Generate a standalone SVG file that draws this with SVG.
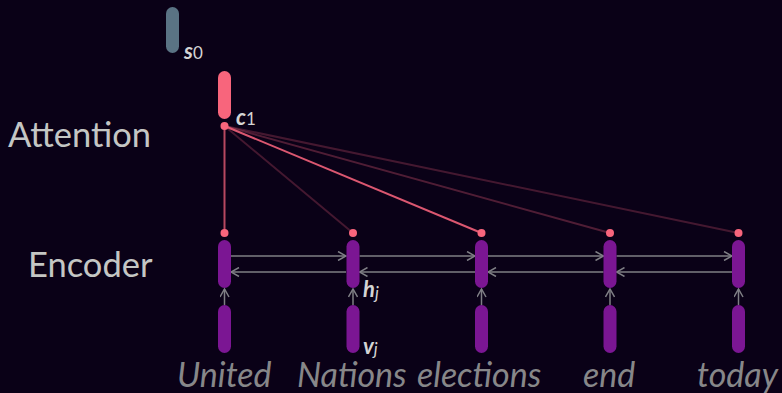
<svg xmlns="http://www.w3.org/2000/svg" width="782" height="393" viewBox="0 0 782 393">
<defs>
<style>
.bg{fill:#0a0117}
.h{fill:#7b1693}
.dot{fill:#f8657c}
.att{stroke:#f2607a;stroke-width:2;fill:none}
.arr{stroke:#7f7f85;stroke-width:1.5;fill:none}
.lbl{font-family:Lato,"Open Sans",sans-serif;fill:#c4c6c4;font-size:34.5px}
.word{font-family:Lato,"Open Sans",sans-serif;fill:#878789;font-size:34px;font-style:italic}
.var{font-family:Lato,"Open Sans",sans-serif;fill:#d4d4d4;font-size:22px;font-weight:bold;font-style:italic}
.sub{font-size:17px;font-weight:normal}
</style>
<marker id="ah" viewBox="0 0 10 10" refX="9" refY="5" markerWidth="10" markerHeight="10" markerUnits="userSpaceOnUse" orient="auto">
<path d="M1,0.5 L9,5 L1,9.5" fill="none" stroke="#7f7f85" stroke-width="1.5"/>
</marker>
</defs>
<rect class="bg" x="0" y="0" width="782" height="393"/>
<text class="lbl" x="8" y="147">Attention</text>
<text class="lbl" x="28" y="277">Encoder</text>
<g id="connectors">
<line class="att" x1="224.5" y1="126" x2="224.5" y2="233" stroke-opacity="0.75"/>
<line class="att" x1="224.5" y1="126" x2="353" y2="233" stroke-opacity="0.25"/>
<line class="att" x1="224.5" y1="126" x2="481.5" y2="233" stroke-opacity="0.9"/>
<line class="att" x1="224.5" y1="126" x2="610" y2="233" stroke-opacity="0.3"/>
<line class="att" x1="224.5" y1="126" x2="738.5" y2="233" stroke-opacity="0.25"/>
<g marker-end="url(#ah)" class="arr">
<line x1="231" y1="256" x2="346" y2="256"/>
<line x1="359.5" y1="256" x2="475" y2="256"/>
<line x1="488" y1="256" x2="603.5" y2="256"/>
<line x1="616.5" y1="256" x2="732" y2="256"/>
<line x1="346" y1="272" x2="231" y2="272"/>
<line x1="475" y1="272" x2="359.5" y2="272"/>
<line x1="603.5" y1="272" x2="488" y2="272"/>
<line x1="732" y1="272" x2="616.5" y2="272"/>
<line x1="224.5" y1="305" x2="224.5" y2="289"/>
<line x1="353" y1="305" x2="353" y2="289"/>
<line x1="481.5" y1="305" x2="481.5" y2="289"/>
<line x1="610" y1="305" x2="610" y2="289"/>
<line x1="738.5" y1="305" x2="738.5" y2="289"/>
</g>
</g>
<g id="s0">
<rect x="166" y="7" width="13" height="46" rx="6.5" fill="#5a7384"/>
<text class="var" x="184" y="59">s<tspan class="sub" font-style="normal">0</tspan></text>
</g>
<g id="c1">
<rect x="218" y="71" width="13" height="48" rx="6.5" fill="#f8657c"/>
<circle class="dot" cx="224.5" cy="126" r="4"/>
<text class="var" x="236" y="125">c<tspan class="sub" font-style="normal">1</tspan></text>
</g>
<g id="col1">
<circle class="dot" cx="224.5" cy="233" r="4"/>
<rect class="h" x="218" y="240" width="13" height="48" rx="6.5"/>
<rect class="h" x="218" y="305" width="13" height="48" rx="6.5"/>
<text class="word" x="177" y="387">United</text>
</g>
<g id="col2">
<circle class="dot" cx="353" cy="233" r="4"/>
<rect class="h" x="346.5" y="240" width="13" height="48" rx="6.5"/>
<rect class="h" x="346.5" y="305" width="13" height="48" rx="6.5"/>
<text class="var" x="363" y="297">h<tspan class="sub" dy="2">j</tspan></text>
<text class="var" x="363" y="354">v<tspan class="sub" dy="1">j</tspan></text>
<text class="word" x="297" y="387">Nations</text>
</g>
<g id="col3">
<circle class="dot" cx="481.5" cy="233" r="4"/>
<rect class="h" x="475" y="240" width="13" height="48" rx="6.5"/>
<rect class="h" x="475" y="305" width="13" height="48" rx="6.5"/>
<text class="word" x="417" y="387">elections</text>
</g>
<g id="col4">
<circle class="dot" cx="610" cy="233" r="4"/>
<rect class="h" x="603.5" y="240" width="13" height="48" rx="6.5"/>
<rect class="h" x="603.5" y="305" width="13" height="48" rx="6.5"/>
<text class="word" x="583" y="387">end</text>
</g>
<g id="col5">
<circle class="dot" cx="738.5" cy="233" r="4"/>
<rect class="h" x="732" y="240" width="13" height="48" rx="6.5"/>
<rect class="h" x="732" y="305" width="13" height="48" rx="6.5"/>
<text class="word" x="697" y="387">today</text>
</g>
</svg>
